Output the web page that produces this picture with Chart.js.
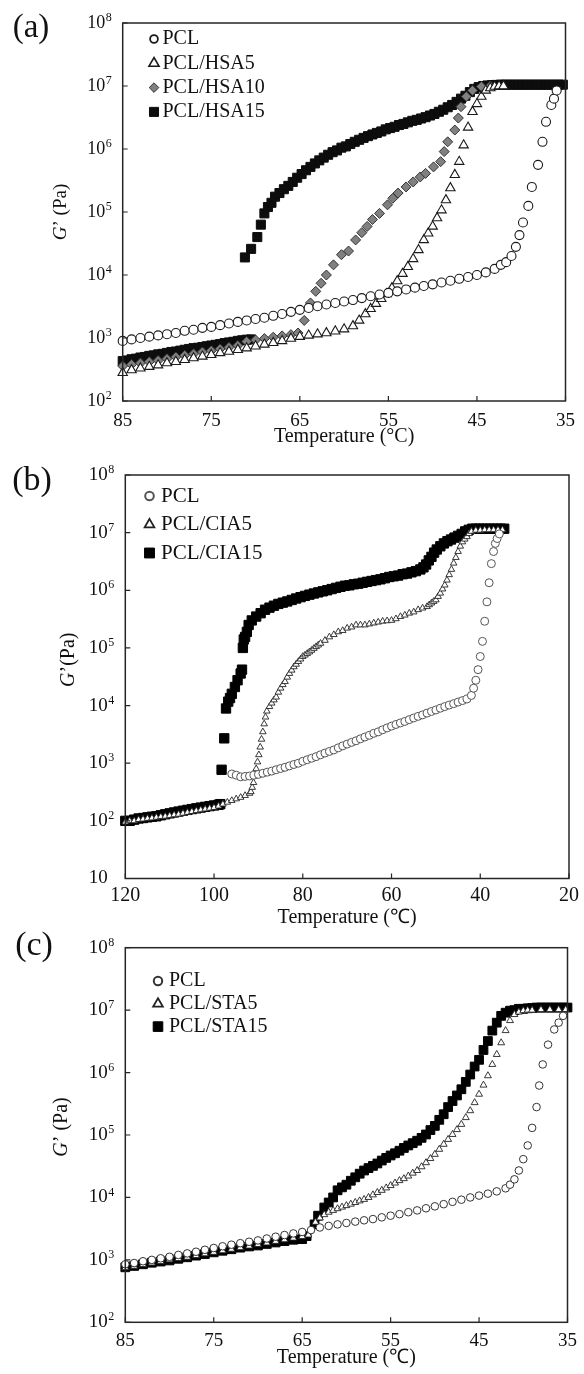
<!DOCTYPE html>
<html>
<head>
<meta charset="utf-8">
<title>G' versus temperature</title>
<script src="https://cdn.jsdelivr.net/npm/chart.js@4.4.1/dist/chart.umd.min.js"></script>
<style>
  html, body { margin: 0; padding: 0; background: #fff; }
  #page { position: relative; width: 584px; height: 1374px; overflow: hidden; }
  #page canvas { position: absolute; left: 0; }
</style>
</head>
<body>
<div id="page">
  <canvas id="panelA" width="584" height="460" style="top:0px"></canvas>
  <canvas id="panelB" width="584" height="490" style="top:445px"></canvas>
  <canvas id="panelC" width="584" height="459" style="top:915px"></canvas>
</div>
<script>
// data: [temperature (°C), G' (Pa)]

// ---- (a) HSA ----
const labelsA = ['PCL', 'PCL/HSA5', 'PCL/HSA10', 'PCL/HSA15'];
const xTicksA = [85, 75, 65, 55, 45, 35];
const decadesA = [2, 3, 4, 5, 6, 7, 8];

const pclA = [[85,900],[84,950],[83,1000],[82,1050],[81,1100],[80,1150],[79,1200],[78,1300],[77,1350],[76,1450],
  [75,1500],[74,1600],[73,1700],[72,1800],[71,1900],[70,2000],[69,2100],[68,2250],[67,2400],[66,2600],
  [65,2800],[64,3000],[63,3200],[62,3400],[61,3600],[60,3800],[59,4000],[58,4300],[57,4600],[56,4900],
  [55,5200],[54,5500],[53,5900],[52,6300],[51,6700],[50,7100],[49,7600],[48,8100],[47,8700],[46,9300],
  [45,1.0e4],[44,1.1e4],[43,1.25e4],[42.3,1.45e4],[41.7,1.6e4],[41.1,2.0e4],[40.6,2.8e4],[40.2,4.3e4],
  [39.8,6.8e4],[39.2,1.25e5],[38.8,2.5e5],[38.1,5.6e5],[37.6,1.3e6],[37.2,2.7e6],[36.6,5.0e6],[36.3,6.3e6],[36.0,8.5e6]];

const hsa5A = [[85,280],[84,310],[83,330],[82,350],[81,370],[80,400],[79,420],[78,450],[77,480],[76,510],
  [75,540],[74,580],[73,610],[72,650],[71,690],[70,740],[69,790],[68,840],[67,900],[66,980],
  [65,1050],[64,1100],[63,1150],[62,1200],[61,1280],[60,1380],[59,1550],[58.3,1900],[57.6,2400],[57,2900],
  [56.4,3500],[55.8,4200],[55.2,5000],[54.6,6200],[54,8000],[53.4,1.05e4],[52.8,1.35e4],[52.2,1.8e4],[51.6,2.5e4],[51,3.6e4],
  [50.5,4.6e4],[50,5.9e4],[49.5,8.0e4],[49,1.07e5],[48.5,1.55e5],[48,2.4e5],[47.5,3.9e5],[47,6.3e5],[46.5,1.15e6],[46,2.2e6],
  [45.5,3.9e6],[45,5.2e6],[44.5,6.8e6],[44,8.5e6],[43.5,9.3e6],[43,9.8e6],[42.5,1.0e7],[42,1.0e7]];

const hsa10A = [[85,360],[84,380],[83,400],[82,420],[81,440],[80,470],[79,500],[78,530],[77,560],[76,600],
  [75,630],[74,670],[73,710],[72,760],[71,880],[70,930],[69,980],[68,1030],[67,1080],[66,1130],
  [65.2,1200],[64.5,1900],[63.8,3600],[63.2,5500],[62.6,7400],[62,1.0e4],[61.2,1.45e4],[60.3,2.1e4],[59.5,2.4e4],[58.7,3.6e4],
  [58,4.7e4],[57.4,5.9e4],[56.8,7.6e4],[56,9.5e4],[55.1,1.3e5],[54.5,1.65e5],[53.9,2.0e5],[53,2.5e5],[52.2,3.0e5],[51.4,3.6e5],
  [50.8,4.1e5],[49.9,5.2e5],[49.1,6.3e5],[48.7,9.1e5],[48.3,1.3e6],[47.5,2.0e6],[47.1,3.1e6],[46.8,4.7e6],[46.2,6.8e6],[45.5,8.5e6],
  [44.5,9.8e6],[43.5,1.0e7]];

const hsa15A = [[85,430],[84.5,440],[84,460],[83.5,470],[83,490],[82.5,500],[82,520],[81.5,530],[81,550],[80.5,560],
  [80,580],[79.5,600],[79,610],[78.5,630],[78,650],[77.5,670],[77,690],[76.5,700],[76,720],[75.5,740],
  [75,760],[74.5,780],[74,800],[73.5,830],[73,850],[72.5,870],[72,900],[71.5,920],[71,940],[70.5,950],
  [71.2,1.9e4],[70.5,2.6e4],[69.8,4.0e4],[69.4,6.3e4],[69.0,9.5e4],[68.6,1.2e5],[68.2,1.4e5],[67.8,1.75e5],[67.3,2.0e5],[66.8,2.3e5],
  [66.3,2.6e5],[65.8,3.0e5],[65.3,3.5e5],[64.8,4.0e5],[64.3,4.6e5],[63.8,5.2e5],[63.3,5.9e5],[62.8,6.6e5],[62.3,7.3e5],[61.8,8.1e5],
  [61.3,8.9e5],[60.8,9.5e5],[60.3,1.05e6],[59.8,1.1e6],[59.3,1.2e6],[58.8,1.3e6],[58.3,1.4e6],[57.8,1.5e6],[57.3,1.6e6],[56.8,1.7e6],
  [56.3,1.8e6],[55.8,1.9e6],[55.3,2.05e6],[54.8,2.15e6],[54.3,2.25e6],[53.8,2.4e6],[53.3,2.5e6],[52.8,2.65e6],[52.3,2.8e6],[51.8,2.9e6],
  [51.3,3.05e6],[50.8,3.2e6],[50.3,3.4e6],[49.8,3.6e6],[49.3,3.9e6],[48.8,4.2e6],[48.3,4.6e6],[47.8,5.0e6],[47.3,5.6e6],[46.8,6.3e6],
  [46.3,7.0e6],[45.8,8.0e6],[45.3,9.0e6],[44.8,9.6e6],[44.3,1.0e7],[43.8,1.02e7],[43.3,1.03e7],[42.8,1.04e7],[42.3,1.05e7],[41.8,1.05e7],
  [41.3,1.05e7],[40.8,1.05e7],[40.3,1.05e7],[39.8,1.05e7],[39.3,1.05e7],[38.8,1.05e7],[38.3,1.05e7],[37.8,1.05e7],[37.3,1.05e7],[36.8,1.05e7],
  [36.3,1.05e7],[35.8,1.05e7],[35.3,1.05e7]];

// ---- (b) CIA ----
const labelsB = ['PCL', 'PCL/CIA5', 'PCL/CIA15'];
const xTicksB = [120, 100, 80, 60, 40, 20];
const decadesB = [1, 2, 3, 4, 5, 6, 7, 8];

const pclB = [[96,650],[95,620],[94,580],[93,590],[92,600],[91,620],[90,640],[89,670],[88,700],[87,730],
  [86,770],[85,810],[84,850],[83,900],[82,950],[81,1000],[80,1080],[79,1150],[78,1220],[77,1300],
  [76,1400],[75,1500],[74,1600],[73,1700],[72,1850],[71,2000],[70,2150],[69,2300],[68,2450],[67,2650],
  [66,2850],[65,3050],[64,3300],[63,3500],[62,3800],[61,4100],[60,4400],[59,4700],[58,5000],[57,5300],
  [56,5700],[55,6100],[54,6500],[53,6900],[52,7400],[51,7900],[50,8400],[49,9000],[48,9600],[47,1.02e4],
  [46,1.08e4],[45,1.15e4],[44,1.22e4],[43,1.3e4],[42,1.5e4],[41.5,2.0e4],[41,2.75e4],[40.5,4.2e4],[40,7.1e4],[39.5,1.3e5],
  [39,2.9e5],[38.5,6.3e5],[38,1.35e6],[37.5,2.9e6],[37,4.7e6],[36.6,6.5e6],[36.2,7.9e6],[35.7,9.5e6]];

const cia5B = [[120,95],[119,100],[118,100],[117,105],[116,107],[115,110],[114,112],[113,115],[112,118],[111,120],
  [110,123],[109,127],[108,130],[107,135],[106,140],[105,145],[104,150],[103,155],[102,160],[101,165],
  [100,170],[99,180],[98,195],[97,210],[96,225],[95,240],[94,255],[93,275],[92,300],[91.7,320],
  [91.4,380],[91.1,460],[90.8,600],[90.5,800],[90.2,1050],[89.9,1400],[89.6,1900],[89.3,2600],[89.0,3500],[88.7,4800],
  [88.4,6300],[88.1,8000],[87.5,9600],[87,1.1e4],[86.5,1.25e4],[86,1.4e4],[85.5,1.7e4],[85,2.0e4],[84.5,2.3e4],[84,2.6e4],
  [83.5,3.1e4],[83,3.6e4],[82.5,4.1e4],[82,4.7e4],[81.5,5.2e4],[81,5.8e4],[80.5,6.4e4],[80,7.1e4],[79.5,7.5e4],[79,8.0e4],
  [78.5,8.5e4],[78,9.1e4],[77.5,9.8e4],[77,1.05e5],[76.5,1.12e5],[76,1.2e5],[75,1.35e5],[74,1.55e5],[73,1.7e5],[72,1.9e5],
  [71,2.0e5],[70,2.2e5],[69,2.3e5],[68,2.5e5],[67,2.5e5],[66,2.5e5],[65,2.6e5],[64,2.7e5],[63,2.8e5],[62,2.9e5],
  [61,2.95e5],[60,3.0e5],[59,3.2e5],[58,3.5e5],[57,3.7e5],[56,4.0e5],[55,4.2e5],[54,4.6e5],[53,4.9e5],[52,5.2e5],
  [51.5,5.6e5],[51,6.0e5],[50.5,6.4e5],[50,6.8e5],[49.5,7.8e5],[49,8.9e5],[48.5,1.05e6],[48,1.23e6],[47.5,1.5e6],[47,1.86e6],
  [46.5,2.3e6],[46,2.95e6],[45.5,3.7e6],[45,4.7e6],[44.5,5.8e6],[44,6.9e6],[43.5,7.7e6],[43,8.5e6],[42.5,9.6e6],[42,1.05e7],
  [41,1.1e7],[40,1.1e7],[39,1.12e7],[38,1.12e7],[37,1.12e7],[36,1.12e7],[35,1.12e7]];

const cia15B = [[120,100],[119,100],[118,105],[117,110],[116,112],[115,115],[114,118],[113,120],[112,125],[111,130],
  [110,135],[109,140],[108,145],[107,150],[106,155],[105,160],[104,165],[103,170],[102,175],[101,180],
  [100,185],[99,190],[98.6,195],[98.3,770],[97.7,2700],[97.3,8900],[96.8,1.17e4],[96.4,1.35e4],[96.0,1.6e4],[95.3,2.1e4],
  [94.7,2.75e4],[94.0,3.6e4],[93.7,4.2e4],[93.5,1.0e5],[93.3,1.4e5],[93.0,1.55e5],[92.6,1.9e5],[92.2,2.5e5],[91.5,3.0e5],[90.5,3.5e5],
  [89.5,4.0e5],[88.5,4.6e5],[87.5,5.0e5],[86.5,5.4e5],[85.5,5.8e5],[84.5,6.1e5],[83.5,6.4e5],[82.5,6.8e5],[81.5,7.2e5],[80.5,7.6e5],
  [79.5,8.0e5],[78.5,8.4e5],[77.5,8.8e5],[76.5,9.2e5],[75.5,9.6e5],[74.5,1.0e6],[73.5,1.05e6],[72.5,1.1e6],[71.5,1.15e6],[70.5,1.2e6],
  [69.5,1.22e6],[68.5,1.27e6],[67.5,1.3e6],[66.5,1.35e6],[65.5,1.4e6],[64.5,1.45e6],[63.5,1.5e6],[62.5,1.55e6],[61.5,1.62e6],[60.5,1.7e6],
  [59.5,1.75e6],[58.5,1.8e6],[57.5,1.9e6],[56.5,1.95e6],[55.5,2.05e6],[54.5,2.15e6],[53.5,2.3e6],[52.8,2.5e6],[52.2,2.8e6],[51.6,3.3e6],
  [51.0,3.8e6],[50.4,4.5e6],[49.8,5.1e6],[49.0,5.8e6],[48.2,6.5e6],[47.4,7.1e6],[46.6,7.6e6],[45.8,8.2e6],[45.0,8.8e6],[44.2,9.5e6],
  [43.4,1.05e7],[42.6,1.12e7],[41.8,1.17e7],[41,1.17e7],[40.2,1.17e7],[39.4,1.17e7],[38.6,1.17e7],[37.8,1.17e7],[37,1.17e7],[36.2,1.17e7],
  [35.4,1.17e7],[34.6,1.17e7]];

// ---- (c) STA ----
const labelsC = ['PCL', 'PCL/STA5', 'PCL/STA15'];
const xTicksC = [85, 75, 65, 55, 45, 35];
const decadesC = [2, 3, 4, 5, 6, 7, 8];

const pclC = [[85,850],[84,890],[83,950],[82,1000],[81,1060],[80,1120],[79,1200],[78,1270],[77,1350],[76,1450],
  [75,1550],[74,1650],[73,1750],[72,1850],[71,1950],[70,2050],[69,2200],[68,2350],[67,2500],[66,2650],
  [65,2800],[64,3000],[63,3300],[62,3500],[61,3700],[60,3900],[59,4100],[58,4300],[57,4500],[56,4800],
  [55,5100],[54,5400],[53,5800],[52,6200],[51,6700],[50,7200],[49,7800],[48,8500],[47,9200],[46,1.0e4],
  [45,1.07e4],[44,1.15e4],[43,1.25e4],[42,1.4e4],[41.5,1.6e4],[41,1.95e4],[40.5,2.7e4],[40,4.1e4],[39.5,6.8e4],[39,1.3e5],
  [38.5,2.8e5],[38.2,6.2e5],[37.8,1.35e6],[37.2,2.8e6],[36.5,4.9e6],[36,6.3e6],[35.5,8.1e6]];

const sta5C = [[85,750],[84,790],[83,840],[82,890],[81,940],[80,1000],[79,1050],[78,1100],[77,1170],[76,1250],
  [75,1320],[74,1400],[73,1480],[72,1570],[71,1660],[70,1760],[69,1870],[68,1980],[67,2100],[66,2230],
  [65,2360],[64.3,2500],[63.5,4000],[63,4700],[62.5,5300],[62,5800],[61.5,6200],[61,6600],[60.5,7000],[60,7400],
  [59.5,7800],[59,8300],[58.5,8800],[58,9300],[57.5,1.0e4],[57,1.1e4],[56.5,1.2e4],[56,1.3e4],[55.5,1.42e4],[55,1.55e4],
  [54.5,1.7e4],[54,1.86e4],[53.5,2.0e4],[53,2.2e4],[52.5,2.45e4],[52,2.7e4],[51.5,3.1e4],[51,3.6e4],[50.5,4.2e4],[50,4.9e4],
  [49.5,5.9e4],[49,7.1e4],[48.5,8.5e4],[48,1.02e5],[47.5,1.22e5],[47,1.48e5],[46.5,1.9e5],[46,2.45e5],[45.5,3.3e5],[45,4.5e5],
  [44.5,6.3e5],[44,8.9e5],[43.5,1.35e6],[43,1.95e6],[42.5,3.0e6],[42,4.7e6],[41.5,6.8e6],[41,8.5e6],[40.5,9.3e6],[40,9.8e6],
  [39.5,1.0e7],[39,1.0e7],[38,1.02e7],[37,1.02e7],[36,1.02e7],[35.2,1.02e7]];

const sta15C = [[85,760],[84,800],[83,850],[82,900],[81,940],[80,980],[79,1040],[78,1100],[77,1170],[76,1240],
  [75,1320],[74,1400],[73,1480],[72,1570],[71,1640],[70,1700],[69,1800],[68,1900],[67,2000],[66,2100],
  [65,2150],[64.5,2400],[63.6,3700],[63.2,5100],[62.5,6900],[62,8300],[61.5,1.0e4],[61,1.3e4],[60.5,1.45e4],[60,1.6e4],
  [59.5,1.85e4],[59,2.1e4],[58.5,2.4e4],[58,2.7e4],[57.5,2.95e4],[57,3.2e4],[56.5,3.5e4],[56,3.9e4],[55.5,4.3e4],[55,4.7e4],
  [54.5,5.1e4],[54,5.6e4],[53.5,6.2e4],[53,6.8e4],[52.5,7.4e4],[52,8.1e4],[51.5,9.0e4],[51,1.02e5],[50.5,1.2e5],[50,1.4e5],
  [49.5,1.75e5],[49,2.15e5],[48.5,2.8e5],[48,3.5e5],[47.5,4.3e5],[47,5.4e5],[46.5,7.1e5],[46,9.3e5],[45.5,1.25e6],[45,1.6e6],
  [44.5,2.3e6],[44,3.2e6],[43.5,4.7e6],[43,6.3e6],[42.5,8.1e6],[42,9.1e6],[41.5,9.8e6],[41,1.0e7],[40.5,1.05e7],[40,1.05e7],
  [39.5,1.07e7],[39,1.08e7],[38.5,1.1e7],[38,1.1e7],[37.5,1.1e7],[37,1.1e7],[36.5,1.1e7],[36,1.1e7],[35.5,1.1e7],[35,1.1e7]];

const SERIF = '"Liberation Serif", "Times New Roman", serif';
Chart.defaults.font.family = SERIF;
Chart.defaults.color = '#111';

// frame, inward ticks, 10^n labels, y title, inside legend, panel letter
const decor = {
  id: 'decor',
  afterDraw(chart, args, o) {
    const ctx = chart.ctx, a = chart.chartArea;
    const x = chart.scales.x, y = chart.scales.y;
    ctx.save();
    ctx.strokeStyle = '#262626';
    ctx.lineWidth = 1.5;
    ctx.strokeRect(a.left, a.top, a.right - a.left, a.bottom - a.top);

    ctx.lineWidth = 1.2;
    ctx.beginPath();
    o.xTicks.forEach(v => {
      const px = x.getPixelForValue(v);
      ctx.moveTo(px, a.bottom); ctx.lineTo(px, a.bottom - 5);
    });
    o.decades.forEach(e => {
      const py = y.getPixelForValue(Math.pow(10, e));
      ctx.moveTo(a.left, py); ctx.lineTo(a.left + 5, py);
    });
    ctx.stroke();

    ctx.fillStyle = '#111';
    ctx.textBaseline = 'middle';
    o.decades.forEach(e => {
      const py = y.getPixelForValue(Math.pow(10, e));
      const right = a.left - o.gap;
      ctx.font = o.tickSize + 'px ' + SERIF;
      ctx.textAlign = 'right';
      ctx.fillText('10', right, py);
      if (e !== 1) {
        ctx.font = Math.round(o.tickSize * 0.65) + 'px ' + SERIF;
        ctx.textAlign = 'left';
        ctx.fillText(String(e), right + 0.5, py - 5);
      }
    });

    // G' (Pa), with the G in italics
    ctx.save();
    ctx.translate(o.titleX, (a.top + a.bottom) / 2 + o.titleDy);
    ctx.rotate(-Math.PI / 2);
    const fi = 'italic ' + o.titleSize + 'px ' + SERIF;
    const fn = o.titleSize + 'px ' + SERIF;
    ctx.font = fi; const wG = ctx.measureText('G').width;
    ctx.font = fn; const wR = ctx.measureText(o.titleRest).width;
    const sx = -(wG + wR) / 2;
    ctx.textAlign = 'left';
    ctx.font = fi; ctx.fillText('G', sx, 0);
    ctx.font = fn; ctx.fillText(o.titleRest, sx + wG, 0);
    ctx.restore();

    // legend in the upper left of the plot
    const lg = o.legend;
    chart.data.datasets.forEach((ds, i) => {
      const cy = lg.y + i * lg.dy, m = lg.marks[i];
      ctx.fillStyle = ds.pointBackgroundColor;
      ctx.strokeStyle = ds.pointBorderColor;
      ctx.lineWidth = m.bw;
      Chart.helpers.drawPoint(ctx, {pointStyle: ds.pointStyle, radius: m.r, borderWidth: m.bw, rotation: 0}, lg.x, cy);
      ctx.fillStyle = '#111';
      ctx.font = lg.size + 'px ' + SERIF;
      ctx.textAlign = 'left';
      ctx.fillText(ds.label, lg.x + lg.dx, cy);
    });

    ctx.font = o.tagSize + 'px ' + SERIF;
    ctx.textAlign = 'center';
    ctx.fillText(o.tag, o.tagX, o.tagY);
    ctx.restore();
  }
};

function buildPanel(p) {
  const canvas = document.getElementById(p.id);
  return new Chart(canvas, {
    type: 'scatter',
    data: {
      datasets: p.series.map(s => ({
        label: s.label,
        data: s.data.map(d => ({x: d[0], y: d[1]})),
        pointStyle: s.style,
        pointRadius: s.r,
        pointHoverRadius: s.r,
        pointBorderWidth: s.bw,
        pointBackgroundColor: s.fill,
        pointBorderColor: s.stroke,
        showLine: false,
        clip: false
      }))
    },
    options: {
      responsive: false,
      animation: false,
      devicePixelRatio: 1,
      layout: {padding: {left: 0, top: p.area.top, right: 584 - p.area.right, bottom: 0}},
      plugins: {
        legend: {display: false},
        tooltip: {enabled: false},
        decor: p.decor
      },
      scales: {
        x: {
          type: 'linear', reverse: true, min: p.xMin, max: p.xMax,
          afterBuildTicks: s => { s.ticks = p.xTicks.map(v => ({value: v})); },
          afterFit: s => { s.height = p.height - p.area.bottom; },
          grid: {display: false, drawTicks: false},
          border: {display: false},
          ticks: {padding: p.tickPad, font: {size: p.tickSize}, color: '#111', maxRotation: 0, autoSkip: false},
          title: {display: true, text: p.xTitle, font: {size: 20}, color: '#111', padding: {top: 0, bottom: p.titlePad}}
        },
        y: {
          type: 'logarithmic', min: p.yMin, max: 1e8,
          afterFit: s => { s.width = p.area.left; },
          grid: {display: false, drawTicks: false},
          border: {display: false},
          ticks: {display: false}
        }
      }
    },
    plugins: [decor]
  });
}

buildPanel({
  id: 'panelA', height: 460,
  area: {left: 122.7, top: 23, right: 572.7, bottom: 401},
  xMin: 35, xMax: 85, xTicks: xTicksA, yMin: 1e2,
  tickPad: 9, tickSize: 19, xTitle: 'Temperature (°C)', titlePad: 11,
  series: [
    {label: labelsA[0], data: pclA, style: 'circle', r: 4.5, bw: 1.1, fill: '#ffffff', stroke: '#1a1a1a'},
    {label: labelsA[1], data: hsa5A, style: 'triangle', r: 5.4, bw: 1.1, fill: '#ffffff', stroke: '#1a1a1a'},
    {label: labelsA[2], data: hsa10A, style: 'rectRot', r: 5, bw: 1, fill: '#808080', stroke: '#333333'},
    {label: labelsA[3], data: hsa15A, style: 'rect', r: 6.4, bw: 1, fill: '#0d0d0d', stroke: '#0d0d0d'}
  ],
  decor: {
    xTicks: xTicksA, decades: decadesA, gap: 17.5, tickSize: 18,
    titleX: 61, titleDy: 0, titleSize: 19, titleRest: '\u2019 (Pa)',
    tag: '(a)', tagX: 31, tagY: 28, tagSize: 33,
    legend: {x: 154, y: 39, dy: 24.3, dx: 8.5, size: 20,
      marks: [{r: 3.9, bw: 1.8}, {r: 5.8, bw: 1.6}, {r: 4.8, bw: 1}, {r: 6.4, bw: 1}]}
  }
});

buildPanel({
  id: 'panelB', height: 490,
  area: {left: 125.3, top: 30, right: 572, bottom: 433.5},
  xMin: 20, xMax: 120, xTicks: xTicksB, yMin: 1e1,
  tickPad: 5, tickSize: 20, xTitle: 'Temperature (\u2103)', titlePad: 5,
  series: [
    {label: labelsB[0], data: pclB, style: 'circle', r: 4, bw: 1, fill: '#ffffff', stroke: '#555555'},
    {label: labelsB[1], data: cia5B, style: 'triangle', r: 3.8, bw: 0.9, fill: '#ffffff', stroke: '#222222'},
    {label: labelsB[2], data: cia15B, style: 'rect', r: 6.6, bw: 1, fill: '#000000', stroke: '#000000'}
  ],
  decor: {
    xTicks: xTicksB, decades: decadesB, gap: 17.5, tickSize: 19,
    titleX: 69, titleDy: -17, titleSize: 20, titleRest: '\u2019(Pa)',
    tag: '(b)', tagX: 32, tagY: 36, tagSize: 34,
    legend: {x: 149.5, y: 51, dy: 28.5, dx: 11.5, size: 21,
      marks: [{r: 4.3, bw: 2}, {r: 5.6, bw: 1.8}, {r: 7, bw: 1}]}
  }
});

buildPanel({
  id: 'panelC', height: 459,
  area: {left: 125.3, top: 32.7, right: 570, bottom: 407.3},
  xMin: 35, xMax: 85, xTicks: xTicksC, yMin: 1e2,
  tickPad: 7, tickSize: 19, xTitle: 'Temperature (\u2103)', titlePad: 4,
  series: [
    {label: labelsC[0], data: pclC, style: 'circle', r: 3.8, bw: 1, fill: '#ffffff', stroke: '#333333'},
    {label: labelsC[1], data: sta5C, style: 'triangle', r: 4, bw: 0.9, fill: '#ffffff', stroke: '#222222'},
    {label: labelsC[2], data: sta15C, style: 'rect', r: 6.2, bw: 1, fill: '#000000', stroke: '#000000'}
  ],
  decor: {
    xTicks: xTicksC, decades: decadesC, gap: 17.5, tickSize: 19,
    titleX: 61.5, titleDy: -8, titleSize: 20, titleRest: '\u2019 (Pa)',
    tag: '(c)', tagX: 34, tagY: 31, tagSize: 34,
    legend: {x: 158, y: 66, dy: 22.8, dx: 11, size: 20,
      marks: [{r: 4.2, bw: 2}, {r: 5.6, bw: 1.8}, {r: 6.8, bw: 1}]}
  }
});
</script>
</body>
</html>
